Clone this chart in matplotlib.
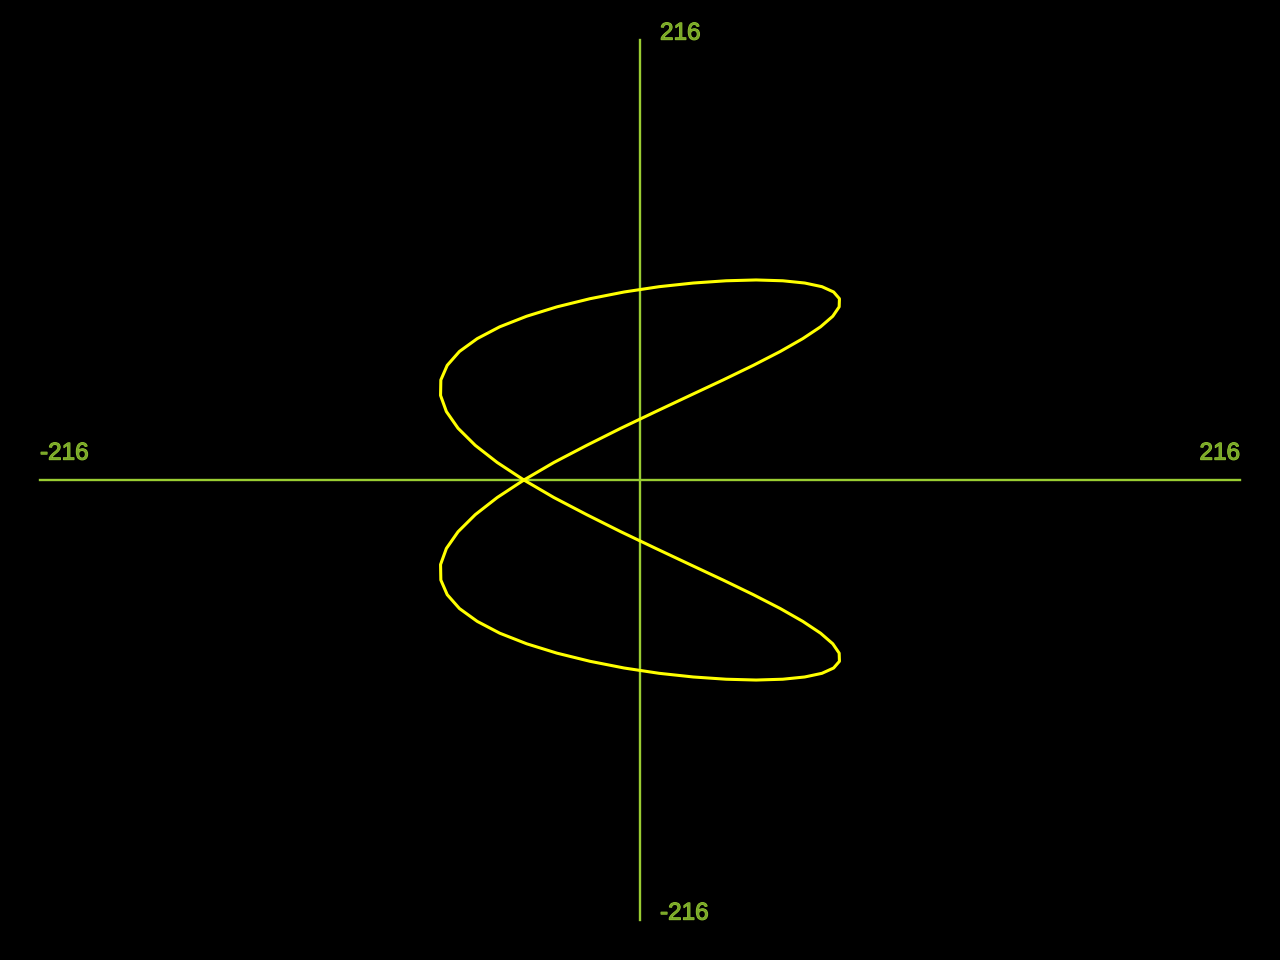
import matplotlib
matplotlib.use("Agg")
import matplotlib.pyplot as plt
import matplotlib.patheffects as pe

# axis range (both directions)
AXIS_MAX = 216

# curve points, in axis units, going round the loop
curve_x = [
    -41.8, -31.0, -19.2, -6.9, 5.7, 18.0, 29.9, 40.8, 50.5, 58.6, 65.0, 69.4,
    71.7, 71.8, 69.7, 65.5, 59.3, 51.4, 41.8, 31.0, 19.2, 6.9, -5.7, -18.0,
    -29.9, -40.8, -50.5, -58.6, -65.0, -69.4, -71.7, -71.8, -69.7, -65.5, -59.3, -51.4,
    -41.8, -31.0, -19.2, -6.9, 5.7, 18.0, 29.9, 40.8, 50.5, 58.6, 65.0, 69.4,
    71.7, 71.8, 69.7, 65.5, 59.3, 51.4, 41.8, 31.0, 19.2, 6.9, -5.7, -18.0,
    -29.9, -40.8, -50.5, -58.6, -65.0, -69.4, -71.7, -71.8, -69.7, -65.5, -59.3, -51.4,
    -41.8,
]
curve_y = [
    0.0, 8.6, 17.0, 25.4, 33.6, 41.5, 49.1, 56.3, 63.1, 69.4, 75.2, 80.4,
    85.0, 89.0, 92.3, 94.9, 96.7, 97.8, 98.2, 97.8, 96.7, 94.9, 92.3, 89.0,
    85.0, 80.4, 75.2, 69.4, 63.1, 56.3, 49.1, 41.5, 33.6, 25.4, 17.0, 8.6,
    0.0, -8.6, -17.0, -25.4, -33.6, -41.5, -49.1, -56.3, -63.1, -69.4, -75.2, -80.4,
    -85.0, -89.0, -92.3, -94.9, -96.7, -97.8, -98.2, -97.8, -96.7, -94.9, -92.3, -89.0,
    -85.0, -80.4, -75.2, -69.4, -63.1, -56.3, -49.1, -41.5, -33.6, -25.4, -17.0, -8.6,
    0.0,
]

tick_labels = ["216", "-216", "-216", "216"]

AXIS_COLOR = "#9acd32"
CURVE_COLOR = "#ffff00"
TEXT_FILL = "#7aa82a"

fig = plt.figure(figsize=(12.8, 9.6), dpi=100, facecolor="black")
ax = fig.add_axes([40 / 1280, 40 / 960, 1200 / 1280, 880 / 960])
ax.set_facecolor("black")
ax.set_xlim(-AXIS_MAX, AXIS_MAX)
ax.set_ylim(-AXIS_MAX, AXIS_MAX)
ax.axis("off")

ax.plot([-AXIS_MAX, AXIS_MAX], [0, 0], color=AXIS_COLOR, lw=1.7, clip_on=False)
ax.plot([0, 0], [-AXIS_MAX, AXIS_MAX], color=AXIS_COLOR, lw=1.7, clip_on=False)

ax.plot(curve_x, curve_y, color=CURVE_COLOR, lw=2.2, solid_joinstyle="round")

fx = [pe.withStroke(linewidth=0.8, foreground=AXIS_COLOR)]
style = dict(textcoords="offset points", fontsize=17.5, family="Liberation Sans",
             color=TEXT_FILL, path_effects=fx, annotation_clip=False)

ax.annotate(tick_labels[0], xy=(0, AXIS_MAX), xytext=(14.4, 4.6),
            ha="left", va="center", **style)
ax.annotate(tick_labels[1], xy=(0, -AXIS_MAX), xytext=(14.4, 4.6),
            ha="left", va="center", **style)
ax.annotate(tick_labels[2], xy=(-AXIS_MAX, 0), xytext=(0, 19.0),
            ha="left", va="center", **style)
ax.annotate(tick_labels[3], xy=(AXIS_MAX, 0), xytext=(0, 19.0),
            ha="right", va="center", **style)

fig.savefig("out.png", dpi=100, facecolor="black")
